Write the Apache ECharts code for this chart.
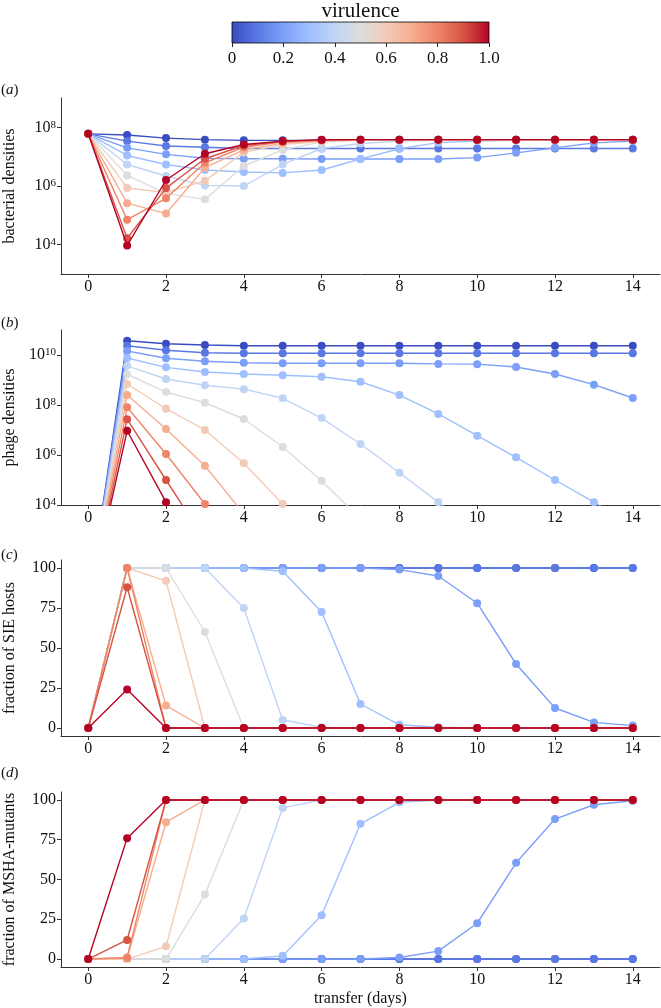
<!DOCTYPE html>
<html>
<head>
<meta charset="utf-8">
<script src="https://cdn.jsdelivr.net/npm/echarts@6/dist/echarts.min.js"></script>
<style>
html,body{margin:0;padding:0;background:#fff;}
#chart{width:661px;height:1008px;}
</style>
</head>
<body>
<div id="chart"></div>
<script>
// ---------------- data ----------------
const days = [0,1,2,3,4,5,6,7,8,9,10,11,12,13,14];
const virulence = [0,0.1,0.2,0.3,0.4,0.5,0.6,0.7,0.8,0.9,1.0];
const virulenceColors = ['#3b4cc0','#5978e3','#7b9ff9','#9fbfff','#c0d4f5','#dddddd','#f2cbb7','#f7ad8f','#ee8468','#d75344','#b40426'];
const colorbarTicks = [0,0.2,0.4,0.6,0.8,1.0];
const logTicksA = [1e4,1e6,1e8];
const logTicksB = [1e4,1e6,1e8,1e10];
const pctTicks = [0,25,50,75,100];
const dayTicks = [0,2,4,6,8,10,12,14];

// (a) bacterial densities, one row per virulence value
const bacterialDensities = [
  [6.0e7,5.5e7,4.3e7,3.8e7,3.6e7,3.6e7,3.6e7,3.7e7,3.7e7,3.7e7,3.7e7,3.7e7,3.7e7,3.7e7,3.7e7],
  [6.0e7,3.4e7,2.3e7,2.1e7,1.9e7,1.9e7,1.9e7,1.9e7,1.9e7,1.9e7,1.9e7,1.9e7,1.9e7,1.9e7,1.9e7],
  [6.0e7,2.0e7,1.2e7,8.8e6,8.5e6,8.5e6,8.3e6,8.3e6,8.3e6,8.3e6,9.3e6,1.35e7,2.0e7,2.95e7,3.4e7],
  [6.0e7,1.1e7,5.4e6,3.5e6,3.0e6,2.8e6,3.5e6,8.3e6,1.86e7,3.0e7,3.4e7,3.6e7,3.7e7,3.7e7,3.7e7],
  [6.0e7,5.4e6,2.2e6,1.05e6,1.0e6,5.4e6,1.9e7,2.8e7,3.4e7,3.6e7,3.7e7,3.7e7,3.7e7,3.7e7,3.7e7],
  [6.0e7,2.3e6,5.6e5,3.5e5,4.8e6,1.7e7,3.2e7,3.6e7,3.7e7,3.7e7,3.7e7,3.7e7,3.7e7,3.7e7,3.7e7],
  [6.0e7,8.5e5,6.0e5,1.5e6,1.4e7,2.6e7,3.3e7,3.7e7,3.8e7,3.8e7,3.8e7,3.8e7,3.8e7,3.8e7,3.8e7],
  [6.0e7,2.6e5,1.15e5,4.2e6,1.7e7,2.9e7,3.5e7,3.8e7,3.8e7,3.8e7,3.8e7,3.8e7,3.8e7,3.8e7,3.8e7],
  [6.0e7,7.1e4,3.8e5,6.2e6,2.1e7,3.2e7,3.6e7,3.8e7,3.8e7,3.8e7,3.8e7,3.8e7,3.8e7,3.8e7,3.8e7],
  [6.0e7,1.66e4,8.5e5,8.5e6,2.4e7,3.3e7,3.7e7,3.8e7,3.8e7,3.8e7,3.8e7,3.8e7,3.8e7,3.8e7,3.8e7],
  [6.0e7,9.3e3,1.6e6,1.26e7,2.6e7,3.4e7,3.8e7,3.8e7,3.8e7,3.8e7,3.8e7,3.8e7,3.8e7,3.8e7,3.8e7]
];

// (b) phage densities
const phageDensities = [
  [1,3.7e10,2.8e10,2.5e10,2.35e10,2.35e10,2.35e10,2.35e10,2.35e10,2.35e10,2.35e10,2.35e10,2.35e10,2.35e10,2.35e10],
  [1,2.35e10,1.55e10,1.23e10,1.17e10,1.17e10,1.17e10,1.17e10,1.17e10,1.17e10,1.17e10,1.17e10,1.17e10,1.17e10,1.17e10],
  [1,1.45e10,7.4e9,5.6e9,4.9e9,4.7e9,4.7e9,4.7e9,4.7e9,4.4e9,4.3e9,3.3e9,1.74e9,6.5e8,1.9e8],
  [1,7.6e9,3.2e9,2.1e9,1.74e9,1.55e9,1.35e9,8.5e8,2.5e8,4.4e7,5.9e6,8.1e5,1.0e5,1.3e4,1.6e3],
  [1,3.7e9,1.1e9,6.2e8,4.3e8,1.86e8,3.0e7,2.75e6,1.95e5,1.3e4,8e2,5e1,3,1,1],
  [1,1.7e9,3.3e8,1.23e8,2.75e7,2.1e6,9.3e4,2.8e3,2e2,1.5e1,1,1,1,1,1],
  [1,6.9e8,7.1e7,1.0e7,4.7e5,1.1e4,3e2,1e1,1,1,1,1,1,1,1],
  [1,2.5e8,1.1e7,3.7e5,4.4e3,6e1,1,1,1,1,1,1,1,1,1],
  [1,8.1e7,1.1e6,1.1e4,4e2,1e1,1,1,1,1,1,1,1,1,1],
  [1,2.7e7,1.0e5,4e2,2,1,1,1,1,1,1,1,1,1,1],
  [1,9.3e6,1.3e4,3e1,1,1,1,1,1,1,1,1,1,1,1]
];

// (c) fraction of SIE hosts (%)
const sieFraction = [
  [0,100,100,100,100,100,100,100,100,100,100,100,100,100,100],
  [0,100,100,100,100,100,100,100,100,100,100,100,100,100,100],
  [0,100,100,100,100,100,100,100,99,95,78,40,12.5,3.5,1.5],
  [0,100,100,100,100,98,72.5,15,2,0.5,0,0,0,0,0],
  [0,100,100,100,75,5,0.5,0,0,0,0,0,0,0,0],
  [0,100,100,60,0,0,0,0,0,0,0,0,0,0,0],
  [0,100,92,0,0,0,0,0,0,0,0,0,0,0,0],
  [0,100,14,0,0,0,0,0,0,0,0,0,0,0,0],
  [0,100,0,0,0,0,0,0,0,0,0,0,0,0,0],
  [0,88,0,0,0,0,0,0,0,0,0,0,0,0,0],
  [0,24,0,0,0,0,0,0,0,0,0,0,0,0,0]
];

// (d) fraction of MSHA-mutants (%)
const mshaFraction = [
  [0,0,0,0,0,0,0,0,0,0,0,0,0,0,0],
  [0,0,0,0,0,0,0,0,0,0,0,0,0,0,0],
  [0,0,0,0,0,0,0,0,1,5,22.5,60.5,88,97,99.5],
  [0,0,0,0,0,2,27.5,85,98.5,100,100,100,100,100,100],
  [0,0,0,0,25.5,95,100,100,100,100,100,100,100,100,100],
  [0,0,0,40.5,100,100,100,100,100,100,100,100,100,100,100],
  [0,0,8,100,100,100,100,100,100,100,100,100,100,100,100],
  [0,0.5,86,100,100,100,100,100,100,100,100,100,100,100,100],
  [0,1,100,100,100,100,100,100,100,100,100,100,100,100,100],
  [0,12,100,100,100,100,100,100,100,100,100,100,100,100,100],
  [0,76,100,100,100,100,100,100,100,100,100,100,100,100,100]
];

const panelLabels = ['a','b','c','d'];
const yNames = ['bacterial densities','phage densities','fraction of SIE hosts','fraction of MSHA-mutants'];
const xName = 'transfer (days)';
const colorbarTitle = 'virulence';

// ---------------- chart ----------------
const FONT = '"Liberation Serif", "DejaVu Serif", "Times New Roman", serif';
const AX = '#333333';
const TXT = '#111111';
const chart = echarts.init(document.getElementById('chart'), null, {renderer:'canvas'});

const gridBase = {containLabel:false, outerBoundsMode:'none'};
const grids = [
  Object.assign({left:61, top:98, width:599, height:176}, gridBase),
  Object.assign({left:61, top:330, width:599, height:175}, gridBase),
  Object.assign({left:61, top:560, width:599, height:176}, gridBase),
  Object.assign({left:61, top:792, width:599, height:175}, gridBase),
  Object.assign({left:232, top:22, width:257, height:21, show:true,
   backgroundColor: new echarts.graphic.LinearGradient(0,0,1,0,
     virulenceColors.map((c,i)=>({offset:virulence[i], color:c}))),
   borderColor:'#000', borderWidth:0.8}, gridBase)
];

function supLabel(v){
  const e = Math.round(Math.log10(v));
  return '10{s|' + e + '}';
}

const xAxes = [0,1,2,3].map(i => ({
  type:'value', gridIndex:i, min:-0.7, max:14.7,
  axisLine:{show:true, onZero:false, lineStyle:{color:AX, width:1}},
  axisTick:{show:true, length:4, lineStyle:{color:AX}, customValues:dayTicks},
  axisLabel:{show:true, customValues:dayTicks, color:TXT, fontFamily:FONT, fontSize:16, margin:5},
  splitLine:{show:false},
  name: i===3 ? xName : '', nameLocation:'middle', nameGap:24,
  nameTextStyle:{color:TXT, fontFamily:FONT, fontSize:16}
}));
xAxes.push({
  type:'value', gridIndex:4, min:0, max:1, interval:0.2, position:'bottom',
  axisLine:{show:false},
  axisTick:{show:true, length:4, lineStyle:{color:'#222'}},
  axisLabel:{color:TXT, fontFamily:FONT, fontSize:17, margin:7,
    formatter: v => v===0 ? '0' : v.toFixed(1)},
  splitLine:{show:false}
});

const richSup = {s:{fontSize:11, fontFamily:FONT, color:TXT, lineHeight:8, verticalAlign:'top'}};
const yAxes = [
  {type:'log', logBase:10, gridIndex:0, min:1e3, max:1e9,
   axisTick:{customValues:logTicksA}, axisLabel:{customValues:logTicksA, formatter:supLabel, rich:richSup}},
  {type:'log', logBase:10, gridIndex:1, min:1e4, max:1e11,
   axisTick:{customValues:logTicksB}, axisLabel:{customValues:logTicksB, formatter:supLabel, rich:richSup}},
  {type:'value', gridIndex:2, min:-5, max:105,
   axisTick:{customValues:pctTicks}, axisLabel:{customValues:pctTicks}},
  {type:'value', gridIndex:3, min:-5, max:105,
   axisTick:{customValues:pctTicks}, axisLabel:{customValues:pctTicks}}
].map((a,i) => echarts.util.merge(a, {
  axisLine:{show:true, onZero:false, lineStyle:{color:AX, width:1}},
  axisTick:{show:true, length:4, lineStyle:{color:AX}},
  axisLabel:{show:true, color:TXT, fontFamily:FONT, fontSize:16, margin:5},
  splitLine:{show:false},
  name: yNames[i], nameLocation:'middle', nameGap:43, nameRotate:90,
  nameTextStyle:{color:TXT, fontFamily:FONT, fontSize:16}
}, true));
yAxes.push({type:'value', gridIndex:4, min:0, max:1, show:false});

const panels = [bacterialDensities, phageDensities, sieFraction, mshaFraction];
const series = [];
panels.forEach((rows, p) => {
  rows.forEach((row, i) => {
    series.push({
      type:'line', xAxisIndex:p, yAxisIndex:p,
      data: days.map((d,j) => [d, row[j]]),
      color: virulenceColors[i],
      symbol:'circle', symbolSize:8, showSymbol:true,
      lineStyle:{width:1.4, color:virulenceColors[i]},
      itemStyle:{color:virulenceColors[i]},
      z: 10 + i, clip:true, silent:true,
      emphasis:{disabled:true}, animation:false
    });
  });
});

const labelTops = [83, 316, 548, 766];
const graphics = panelLabels.map((l,i) => ({
  type:'text', left:1, top:labelTops[i],
  style:{text:'{n|(}{i|' + l + '}{n|)}', rich:{
    n:{fontFamily:FONT, fontSize:15, fill:TXT},
    i:{fontFamily:FONT, fontSize:15, fontStyle:'italic', fill:TXT}}}
}));
graphics.push({
  type:'text', x:360.5, y:11,
  style:{text:colorbarTitle, fontFamily:FONT, fontSize:21, fill:TXT, align:'center', verticalAlign:'middle'}
});

chart.setOption({
  animation:false,
  backgroundColor:'#fff',
  grid: grids,
  xAxis: xAxes,
  yAxis: yAxes,
  series: series,
  graphic: graphics
});
</script>
</body>
</html>
